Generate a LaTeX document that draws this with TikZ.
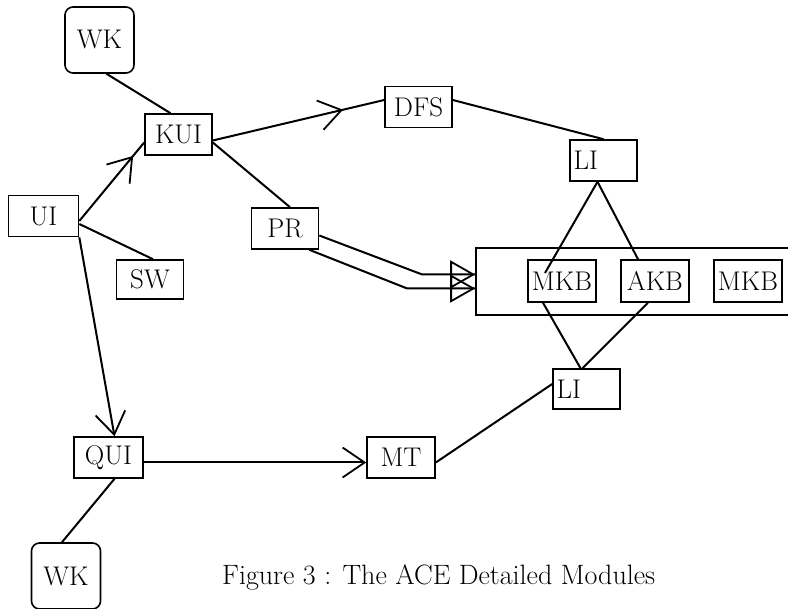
\documentclass[tikz,border=0pt]{standalone}
\usepackage{tikz}
\usetikzlibrary{arrows.meta,positioning,calc,decorations.markings}
\tikzset{
  modbox/.style={rectangle,draw,line width=1.6pt,minimum width=67pt,
                 minimum height=41pt,inner sep=1pt,
                 font=\fontsize{27}{30}\selectfont},
  wkbox/.style={modbox,rounded corners=8pt,minimum height=66pt,
                minimum width=69pt},
  libox/.style={modbox,text width=60pt,align=left},
  conn/.style={line width=2pt},
  barb/.tip={Straight Barb[length=22pt,width=30pt,line width=1.8pt]},
  hollow/.tip={Triangle[open,length=25pt,width=28pt,line width=1.8pt]},
  midarr/.style={conn,postaction={decorate},
    decoration={markings,mark=at position #1 with {\arrow{barb}}}},
  endtri/.style={conn,postaction={decorate},
    decoration={markings,mark=at position 1 with {\arrow{hollow}}}},
}

\begin{document}
\begin{tikzpicture}[x=1pt,y=-1pt]
  \useasboundingbox (0,0) rectangle (788,609);
  % modules
  \node[wkbox] (wkA) at (99.5,40) {WK};
  \node[modbox] (kui) at (178.5,134.5) {KUI};
  \node[modbox] (dfs) at (418.5,107) {DFS};
  \node[modbox,minimum width=70pt] (ui) at (43.5,216) {UI};
  \node[modbox,minimum height=39pt] (sw) at (150,279.5) {SW};
  \node[modbox] (pr) at (285,228.5) {PR};
  \node[libox] (liA) at (603.5,160.5) {LI};
  \node[modbox,minimum width=324pt,minimum height=67pt] (kbase) at (638,281.5) {};
  \node[modbox,minimum width=68pt,minimum height=42pt] (mkbA) at (562,281) {MKB};
  \node[modbox,minimum width=68pt,minimum height=42pt] (akb) at (655,281) {AKB};
  \node[modbox,minimum width=68pt,minimum height=42pt] (mkbB) at (748,281) {MKB};
  \node[libox,minimum height=40pt] (liB) at (586.5,389) {LI};
  \node[modbox,minimum width=69pt] (qui) at (108.5,457.5) {QUI};
  \node[modbox,minimum width=68pt] (mt) at (401,457.5) {MT};
  \node[wkbox] (wkB) at (66,576) {WK};
  \node[anchor=base west,inner sep=0pt,font=\fontsize{28}{32}\selectfont] (cap) at (222,585)
    {Figure 3 : The ACE Detailed Modules};

  % links
  \draw[conn] ($(wkA.south)+(7,0)$) -- ($(kui.north)+(-8,0)$);
  \draw[midarr=0.83] ($(ui.east)+(0,5)$) -- ($(kui.west)+(0,8)$);
  \draw[conn] ($(ui.east)+(0,8)$) -- ($(sw.north)+(3,0)$);
  \draw[conn,-barb] (ui.south east) -- ($(qui.north)+(6,0)$);
  \draw[midarr=0.76] ($(kui.east)+(0,6)$) -- ($(dfs.west)+(0,-7)$);
  \draw[conn] ($(kui.east)+(0,8)$) -- ($(pr.north)+(5,0)$);
  \draw[conn] ($(dfs.east)+(0,-7)$) -- (liA.north);
  \draw[conn] ($(liA.south)+(-6,0)$) -- ($(mkbA.center)+(-17,-8)$);
  \draw[conn] ($(liA.south)+(-6,0)$) -- ($(akb.north)+(-17,0)$);
  \draw[conn] ($(mkbA.south)+(-19,0)$) -- ($(liB.north)+(-6,0)$);
  \draw[conn] ($(akb.south)+(-7,0)$) -- ($(liB.north)+(-4,0)$);
  \draw[conn] ($(mt.east)+(0,5)$) -- ($(liB.west)+(0,-5)$);
  \draw[conn,-barb] ($(qui.east)+(0,5)$) -- ($(mt.west)+(0,5)$);
  \draw[conn] ($(qui.south)+(6,0)$) -- ($(wkB.north)+(-4,0)$);
  % double link PR to knowledge base
  \draw[endtri] ($(pr.east)+(0,7)$) -- ($(kbase.west)+(-53,-7)$)
    -- ($(kbase.west)+(0,-7)$);
  \draw[endtri] ($(pr.south east)+(-10,0)$) -- ($(kbase.west)+(-68,7)$)
    -- ($(kbase.west)+(0,7)$);
\end{tikzpicture}
\end{document}
